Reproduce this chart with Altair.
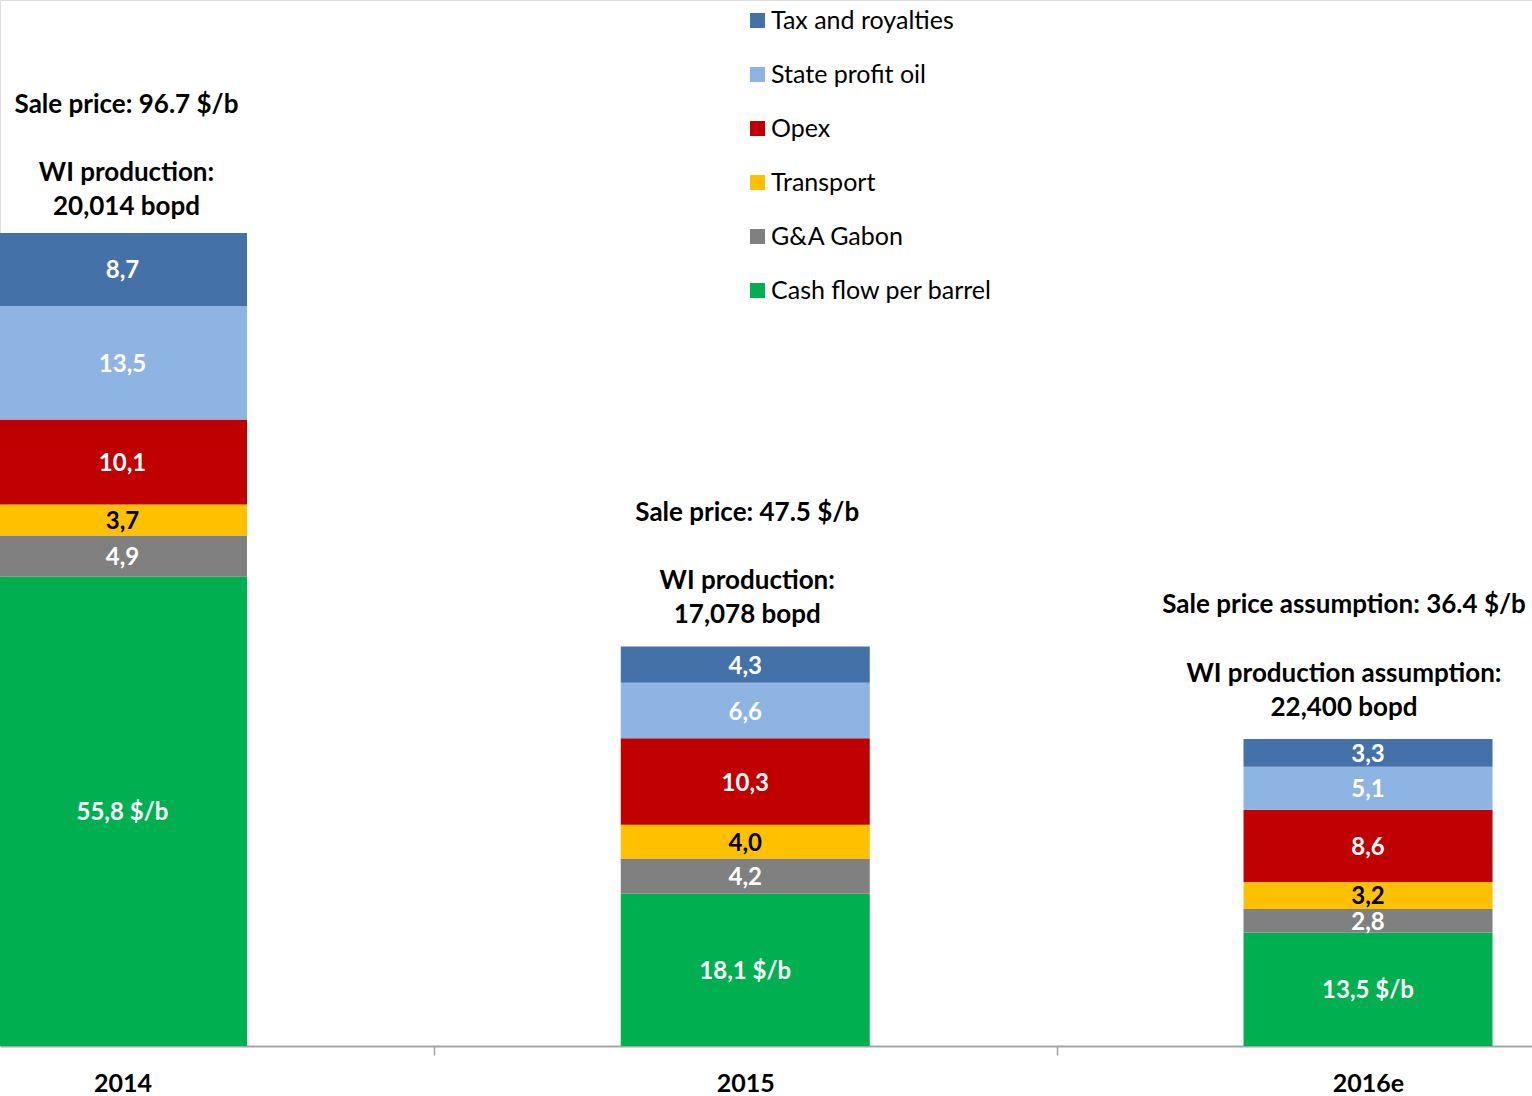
import altair as alt
import pandas as pd

years = ["2014", "2015", "2016e"]
components = ["Tax and royalties", "State profit oil", "Opex", "Transport",
              "G&A Gabon", "Cash flow per barrel"]
colors = ["#4472A8", "#8EB4E3", "#C00000", "#FFC000", "#808080", "#00B050"]

tax_royalties = [8.7, 4.3, 3.3]
state_profit_oil = [13.5, 6.6, 5.1]
opex = [10.1, 10.3, 8.6]
transport = [3.7, 4.0, 3.2]
ga_gabon = [4.9, 4.2, 2.8]
cash_flow = [55.8, 18.1, 13.5]

price_lines = ["Sale price: 96.7 $/b", "Sale price: 47.5 $/b",
               "Sale price assumption: 36.4 $/b"]
production_lines = ["WI production:", "WI production:", "WI production assumption:"]
volume_lines = ["20,014 bopd", "17,078 bopd", "22,400 bopd"]

FONT = "Lato"

series = {
    "Cash flow per barrel": cash_flow,
    "G&A Gabon": ga_gabon,
    "Transport": transport,
    "Opex": opex,
    "State profit oil": state_profit_oil,
    "Tax and royalties": tax_royalties,
}

rows = []
for i, yr in enumerate(years):
    base = 0.0
    for comp in ["Cash flow per barrel", "G&A Gabon", "Transport", "Opex",
                 "State profit oil", "Tax and royalties"]:
        v = series[comp][i]
        lab = f"{v:.1f}".replace(".", ",")
        if comp == "Cash flow per barrel":
            lab += " $/b"
        rows.append({"year": yr, "idx": i, "component": comp, "value": v,
                     "y0": base, "y1": base + v, "mid": base + v / 2, "label": lab})
        base += v
df = pd.DataFrame(rows)

tot = pd.DataFrame({"year": years, "idx": list(range(len(years))),
                    "total": df.groupby("idx")["value"].sum().tolist(),
                    "price": price_lines,
                    "production": [f"{w}\n{v}" for w, v in zip(production_lines, volume_lines)]})

x_scale = alt.Scale(domain=[-0.1967, 2.2633], nice=False, zero=False, padding=0)
y_scale = alt.Scale(domain=[0, 124.4], nice=False, zero=True, padding=0)

label_expr = " : ".join(
    [f"datum.value == {i} ? '{y}'" for i, y in enumerate(years)]) + " : ''"

x_axis = alt.Axis(
    values=[0, 0.5, 1, 1.5, 2],
    labelExpr=label_expr,
    title=None, grid=False,
    domainColor="#A6A6A6", domainWidth=2,
    tickColor="#A6A6A6", tickWidth=1.5, tickSize=9,
    tickOpacity={"condition": {"test": "datum.value % 1 != 0", "value": 1}, "value": 0},
    labelFont=FONT, labelFontSize=25, labelFontWeight="bold", labelColor="black",
    labelPadding=16, labelFlush=False, labelOverlap=False, labelBound=False,
)

bars = alt.Chart(df).mark_bar(size=249, clip=True).encode(
    x=alt.X("idx:Q", scale=x_scale, axis=x_axis),
    y=alt.Y("y0:Q", scale=y_scale, axis=None),
    y2="y1:Q",
    color=alt.Color("component:N",
                    scale=alt.Scale(domain=components, range=colors),
                    legend=alt.Legend(
                        title=None, orient="none", legendX=745, legendY=8,
                        symbolType="square", symbolSize=225, symbolStrokeWidth=0,
                        labelFont=FONT, labelFontSize=25, labelColor="black",
                        labelOffset=1, rowPadding=28, padding=0,
                        labelLimit=400)),
)

bar_labels = alt.Chart(df).mark_text(
    font=FONT, fontSize=24, fontWeight="bold", baseline="middle", align="center",
    clip=True, dy=2
).encode(
    x=alt.X("idx:Q", scale=x_scale),
    y=alt.Y("mid:Q", scale=y_scale),
    text="label:N",
    color=alt.condition(alt.datum.component == "Transport",
                        alt.value("black"), alt.value("white")),
)


def note_layer(field, test, dx, dy):
    return alt.Chart(tot).transform_filter(test).mark_text(
        font=FONT, fontSize=26, fontWeight="bold", baseline="bottom", align="center",
        lineBreak="\n", lineHeight=34, dy=dy, dx=dx, color="black"
    ).encode(
        x=alt.X("idx:Q", scale=x_scale),
        y=alt.Y("total:Q", scale=y_scale),
        text=f"{field}:N",
    )


layers = [
    bars, bar_labels,
    note_layer("price", alt.datum.idx == 0, 4, -115),
    note_layer("production", alt.datum.idx == 0, 4, -47),
    note_layer("price", alt.datum.idx == 1, 2, -121),
    note_layer("production", alt.datum.idx == 1, 2, -53),
    note_layer("price", alt.datum.idx == 2, -24, -121),
    note_layer("production", alt.datum.idx == 2, -24, -52),
]

chart = alt.layer(*layers).properties(
    width=1532, height=1046,
    autosize=alt.AutoSizeParams(type="none"),
    padding={"left": 0, "right": 0, "top": 0, "bottom": 50},
).configure_view(stroke=None).configure(background="white")

chart.save("out.html", embed_options={"renderer": "svg", "actions": False})
